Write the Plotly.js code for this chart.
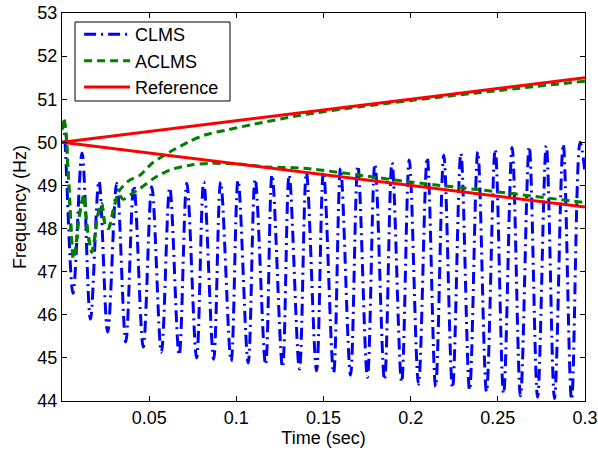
<!DOCTYPE html>
<html>
<head>
<meta charset="utf-8">
<script src="https://cdn.plot.ly/plotly-3.0.1.min.js"></script>
<style>html,body{margin:0;padding:0;background:#fff;}#chart{width:598px;height:450px;}</style>
</head>
<body>
<div id="chart"></div>
<script>
// CLMS: successive peaks and troughs of the oscillating estimate
var clmsTime = [0.0000, 0.0008, 0.0063, 0.0115, 0.0163, 0.0212, 0.0262, 0.0314, 0.0366, 0.0412, 0.0466,
  0.0515, 0.0570, 0.0618, 0.0672, 0.0716, 0.0772, 0.0813, 0.0870, 0.0910, 0.0970,
  0.1010, 0.1068, 0.1108, 0.1168, 0.1205, 0.1265, 0.1303, 0.1362, 0.1402, 0.1460,
  0.1500, 0.1558, 0.1598, 0.1655, 0.1697, 0.1752, 0.1795, 0.1850, 0.1893, 0.1948,
  0.1992, 0.2045, 0.2095, 0.2143, 0.2190, 0.2240, 0.2288, 0.2338, 0.2385, 0.2435,
  0.2485, 0.2533, 0.2582, 0.2630, 0.2680, 0.2728, 0.2778, 0.2825, 0.2875, 0.2923,
  0.2972, 0.3000];
var clmsFreq = [50.30, 50.45, 46.50, 49.75, 45.90, 49.10, 45.60, 49.05, 45.37, 49.00, 45.25,
  48.97, 45.13, 48.95, 45.06, 49.05, 45.00, 49.08, 44.97, 49.08, 44.92,
  49.12, 44.88, 49.15, 44.84, 49.25, 44.78, 49.25, 44.74, 49.30, 44.70,
  49.32, 44.65, 49.40, 44.60, 49.46, 44.55, 49.50, 44.49, 49.53, 44.44,
  49.59, 44.39, 49.65, 44.33, 49.70, 44.30, 49.75, 44.25, 49.78, 44.21,
  49.84, 44.17, 49.88, 44.12, 49.90, 44.09, 49.92, 44.06, 49.96, 44.03,
  50.00, 49.30];

// ACLMS, rising-frequency case
var aclmsUpTime = [0.0000, 0.0010, 0.0023, 0.0034, 0.0044, 0.0053, 0.0065, 0.0084, 0.0094, 0.0113, 0.0126,
  0.0138, 0.0151, 0.0171, 0.0190, 0.0200, 0.0218, 0.0228, 0.0247, 0.0266, 0.0295,
  0.0324, 0.0380, 0.0448, 0.0515, 0.0620, 0.0726, 0.0820, 0.0950, 0.1100, 0.1370,
  0.1700, 0.2000, 0.2500, 0.3000];
var aclmsUpFreq = [50.30, 50.56, 50.20, 49.40, 48.66, 47.90, 47.30, 47.73, 48.15, 48.60, 48.78,
  48.27, 47.83, 47.45, 47.85, 48.20, 48.50, 48.58, 48.10, 48.00, 48.43,
  48.85, 49.10, 49.24, 49.51, 49.78, 50.01, 50.17, 50.29, 50.42, 50.63,
  50.82, 50.97, 51.20, 51.42];

// ACLMS, falling-frequency case
var aclmsDownTime = [0.0000, 0.0010, 0.0023, 0.0034, 0.0044, 0.0053, 0.0065, 0.0084, 0.0094, 0.0113, 0.0126,
  0.0138, 0.0151, 0.0171, 0.0190, 0.0200, 0.0218, 0.0228, 0.0247, 0.0266, 0.0295,
  0.0324, 0.0350, 0.0390, 0.0448, 0.0525, 0.0620, 0.0736, 0.0840, 0.1000, 0.1180,
  0.1385, 0.2000, 0.2500, 0.3000];
var aclmsDownFreq = [50.30, 50.56, 50.20, 49.40, 48.66, 47.90, 47.30, 47.73, 48.15, 48.60, 48.78,
  48.27, 47.83, 47.45, 47.85, 48.20, 48.50, 48.58, 48.10, 48.00, 48.43,
  48.80, 48.68, 48.78, 48.93, 49.16, 49.36, 49.47, 49.51, 49.50, 49.43,
  49.40, 49.08, 48.85, 48.60];

// Reference frequency
var refTime = [0, 0.3];
var refUpFreq = [50, 51.5];
var refDownFreq = [50, 48.5];

var xTickVals = [0.05, 0.1, 0.15, 0.2, 0.25, 0.3];
var xTickText = ['0.05', '0.1', '0.15', '0.2', '0.25', '0.3'];
var yTickVals = [44, 45, 46, 47, 48, 49, 50, 51, 52, 53];

var FONT = 'Liberation Sans, Arial, sans-serif';

var traces = [
  {x: clmsTime, y: clmsFreq, name: 'CLMS', mode: 'lines', legendgroup: 'c',
   line: {color: '#0000ff', width: 3, dash: '12px,5px,2px,5px', shape: 'spline', smoothing: 1}},
  {x: aclmsUpTime, y: aclmsUpFreq, name: 'ACLMS', mode: 'lines', legendgroup: 'a',
   line: {color: '#008000', width: 3, dash: '8px,5px', shape: 'spline', smoothing: 0.8}},
  {x: aclmsDownTime, y: aclmsDownFreq, name: 'ACLMS', mode: 'lines', legendgroup: 'a', showlegend: false,
   line: {color: '#008000', width: 3, dash: '8px,5px', shape: 'spline', smoothing: 0.8}},
  {x: refTime, y: refUpFreq, name: 'Reference', mode: 'lines', legendgroup: 'r',
   line: {color: '#ff0000', width: 3}},
  {x: refTime, y: refDownFreq, name: 'Reference', mode: 'lines', legendgroup: 'r', showlegend: false,
   line: {color: '#ff0000', width: 3}}
];

var layout = {
  width: 598, height: 450,
  margin: {l: 62, r: 13, t: 13, b: 49},
  paper_bgcolor: '#ffffff', plot_bgcolor: '#ffffff',
  font: {family: FONT, size: 18, color: '#000000'},
  showlegend: true,
  hovermode: false,
  xaxis: {
    range: [0, 0.3], tickvals: xTickVals, ticktext: xTickText,
    ticks: 'inside', ticklen: 5, tickcolor: '#000', mirror: 'ticks',
    showline: true, linecolor: '#000', linewidth: 1, showgrid: false, zeroline: false,
    tickfont: {family: FONT, size: 18, color: '#000'},
    title: {text: 'Time (sec)', font: {family: FONT, size: 18, color: '#000'}, standoff: 4}
  },
  yaxis: {
    range: [44, 53], tickvals: yTickVals,
    ticks: 'inside', ticklen: 5, tickcolor: '#000', mirror: 'ticks',
    showline: true, linecolor: '#000', linewidth: 1, showgrid: false, zeroline: false,
    tickfont: {family: FONT, size: 18, color: '#000'},
    title: {text: 'Frequency (Hz)', font: {family: FONT, size: 18, color: '#000'}, standoff: 6}
  },
  shapes: [{
    type: 'rect', xref: 'paper', yref: 'paper', layer: 'below',
    x0: 0.0249, x1: 0.3212, y0: 0.7732, y1: 0.9768,
    fillcolor: '#ffffff', line: {color: '#000000', width: 1}
  }],
  legend: {
    x: 0.0327, y: 0.992, xanchor: 'left', yanchor: 'top',
    bgcolor: 'rgba(0,0,0,0)', borderwidth: 0,
    font: {family: FONT, size: 18, color: '#000'},
    itemwidth: 46, tracegroupgap: 0
  }
};

Plotly.newPlot('chart', traces, layout, {staticPlot: true, displayModeBar: false});
</script>
</body>
</html>
